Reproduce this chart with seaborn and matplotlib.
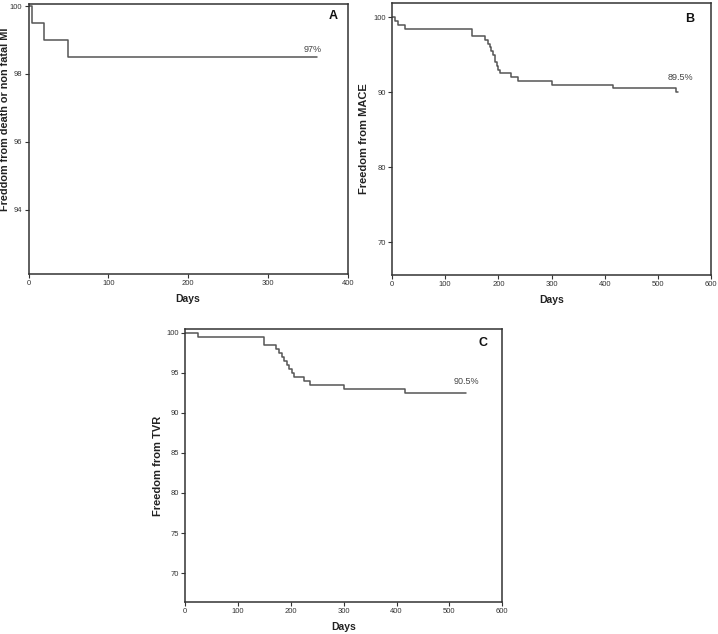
import matplotlib
matplotlib.use("Agg")
import matplotlib.pyplot as plt
import seaborn as sns
import pandas as pd

sns.set_theme(style="white")
plt.rcParams["font.family"] = ["Liberation Sans", "DejaVu Sans"]

# Panel A: freedom from death or non fatal MI
a_days = [0, 4, 19, 50, 361]
a_surv = [100.0, 99.5, 99.0, 98.5, 98.5]
a_label = "97%"
a_xticks = [0, 100, 200, 300, 400]
a_yticks = [94, 96, 98, 100]

# Panel B: freedom from MACE
b_days = [0, 5, 11, 25, 151, 174, 181, 184, 187, 190, 193, 197, 200, 204, 224, 237, 301, 416, 535, 537]
b_surv = [100.0, 99.5, 99.0, 98.5, 97.5, 97.0, 96.5, 96.0, 95.5, 95.0, 94.0, 93.5, 93.0, 92.5, 92.0, 91.5, 91.0, 90.5, 90.0, 90.0]
b_label = "89.5%"
b_xticks = [0, 100, 200, 300, 400, 500, 600]
b_yticks = [70, 80, 90, 100]

# Panel C: freedom from TVR
c_days = [0, 25, 150, 172, 178, 183, 188, 192, 197, 202, 206, 225, 237, 300, 416, 531]
c_surv = [100.0, 99.5, 98.5, 98.0, 97.5, 97.0, 96.5, 96.0, 95.5, 95.0, 94.5, 94.0, 93.5, 93.0, 92.5, 92.5]
c_label = "90.5%"
c_xticks = [0, 100, 200, 300, 400, 500, 600]
c_yticks = [70, 75, 80, 85, 90, 95, 100]

fig = plt.figure(figsize=(7.18, 6.34), dpi=100)

panels = [
    dict(rect=[0.0397, 0.5678, 0.4446, 0.4259], days=a_days, surv=a_surv,
         xlim=(0, 400), ylim=(92.1, 100.06), xticks=a_xticks, yticks=a_yticks,
         ylabel="Freddom from death or non fatal MI", ylab_xy=(-0.057, 0.574), ylab_fs=7.8,
         letter="A", letter_xy=(382, 99.71),
         pct=a_label, pct_xy=(356, 98.72)),
    dict(rect=[0.546, 0.5662, 0.4443, 0.429], days=b_days, surv=b_surv,
         xlim=(0, 600), ylim=(65.6, 101.9), xticks=b_xticks, yticks=b_yticks,
         ylabel="Freedom from MACE", ylab_xy=(-0.071, 0.5), ylab_fs=8,
         letter="B", letter_xy=(560, 99.8),
         pct=b_label, pct_xy=(543, 92.0)),
    dict(rect=[0.2577, 0.0505, 0.4419, 0.4301], days=c_days, surv=c_surv,
         xlim=(0, 600), ylim=(66.4, 100.42), xticks=c_xticks, yticks=c_yticks,
         ylabel="Freedom from TVR", ylab_xy=(-0.069, 0.5), ylab_fs=8,
         letter="C", letter_xy=(564, 98.7),
         pct=c_label, pct_xy=(533, 93.96)),
]

line_col = "#555555"
frame_col = "#333333"

for p in panels:
    ax = fig.add_axes(p["rect"])
    df = pd.DataFrame({"Days": p["days"], "Surv": p["surv"]})
    sns.lineplot(data=df, x="Days", y="Surv", ax=ax, estimator=None, sort=False,
                 drawstyle="steps-post", color=line_col, linewidth=1.1)
    ax.set_xlim(*p["xlim"])
    ax.set_ylim(*p["ylim"])
    ax.set_xticks(p["xticks"])
    ax.set_yticks(p["yticks"])
    ax.set_xticklabels([str(t) for t in p["xticks"]])
    ax.set_yticklabels([str(t) for t in p["yticks"]])
    ax.tick_params(axis="both", which="both", direction="out", length=3, width=0.8,
                   labelsize=5.5, colors="#333333", pad=1.5,
                   bottom=True, left=True, top=False, right=False)
    for s in ax.spines.values():
        s.set_visible(True)
        s.set_color(frame_col)
        s.set_linewidth(1.1)
    ax.set_xlabel("Days", fontsize=7.5, fontweight="bold", color="#222222", labelpad=5)
    ax.set_ylabel(p["ylabel"], fontsize=p["ylab_fs"], fontweight="bold", color="#222222")
    ax.yaxis.set_label_coords(*p["ylab_xy"])
    ax.text(p["letter_xy"][0], p["letter_xy"][1], p["letter"], fontsize=9,
            fontweight="bold", ha="center", va="center", color="#111111")
    ax.text(p["pct_xy"][0], p["pct_xy"][1], p["pct"], fontsize=6.5,
            ha="center", va="center", color="#444444")
    ax.grid(False)

fig.savefig("out.png", dpi=100, facecolor="white")
